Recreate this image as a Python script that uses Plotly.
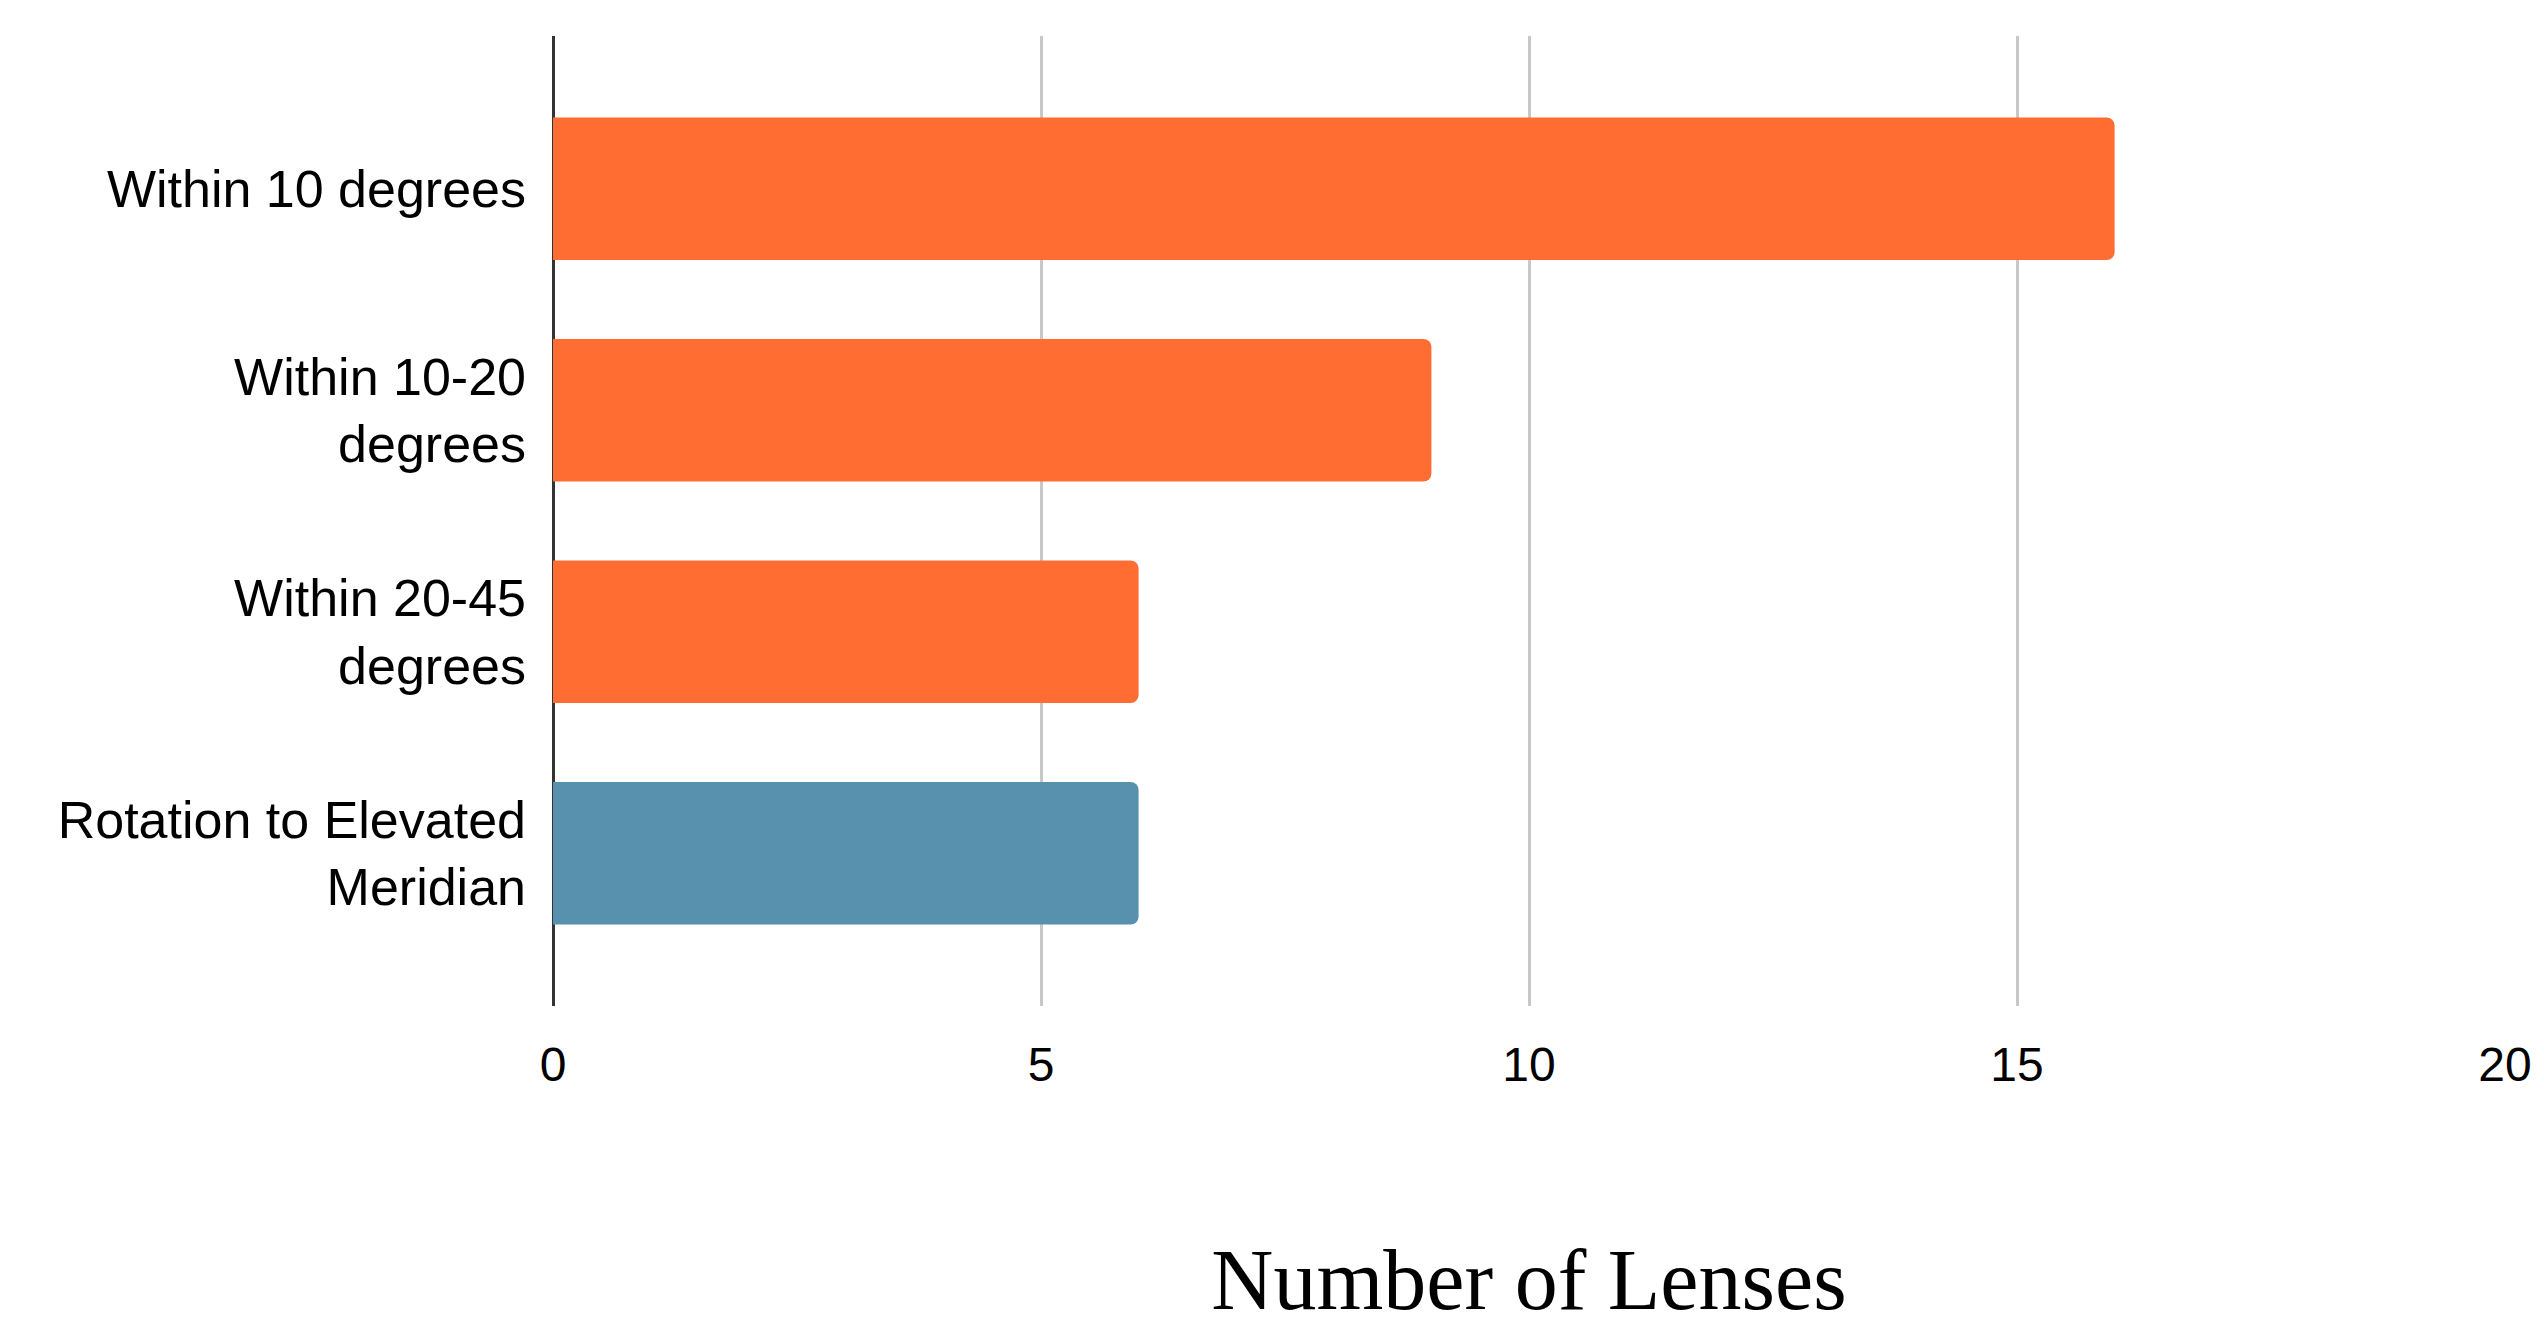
import plotly.graph_objects as go

# Lens orientation categories and counts
categories = [
    "Within 10 degrees",
    "Within 10-20<br>degrees",
    "Within 20-45<br>degrees",
    "Rotation to Elevated<br>Meridian",
]
lens_counts = [16, 9, 6, 6]
bar_colors = ["#FF6D33", "#FF6D33", "#FF6D33", "#5891AD"]

x_ticks = [0, 5, 10, 15, 20]

fig = go.Figure(
    go.Bar(
        x=lens_counts,
        y=categories,
        orientation="h",
        marker=dict(color=bar_colors, line=dict(width=0), cornerradius=8),
        hoverinfo="x+y",
    )
)

fig.update_layout(
    width=2544,
    height=1328,
    margin=dict(l=553, r=39, t=36, b=322),
    paper_bgcolor="white",
    plot_bgcolor="white",
    bargap=0.356,
    showlegend=False,
    font=dict(family="Liberation Sans, Arial, sans-serif", size=52, color="#000000"),
)

fig.update_xaxes(
    range=[0, 20],
    tickvals=x_ticks,
    ticktext=[str(v) for v in x_ticks],
    showgrid=True,
    gridcolor="#C8C8C8",
    gridwidth=3,
    zeroline=True,
    zerolinecolor="#333333",
    zerolinewidth=3,
    showline=False,
    ticks="",
    ticklabelstandoff=26,
    tickfont=dict(size=48),
    title=dict(
        text="Number of Lenses",
        font=dict(family="Liberation Serif, Times New Roman, serif", size=86, color="#000000"),
        standoff=158,
    ),
)

fig.update_yaxes(
    type="category",
    range=[3.69, -0.69],
    showgrid=False,
    zeroline=False,
    showline=False,
    ticks="",
    ticklabelstandoff=26,
    tickfont=dict(size=52),
)

fig.write_html("out.html")
